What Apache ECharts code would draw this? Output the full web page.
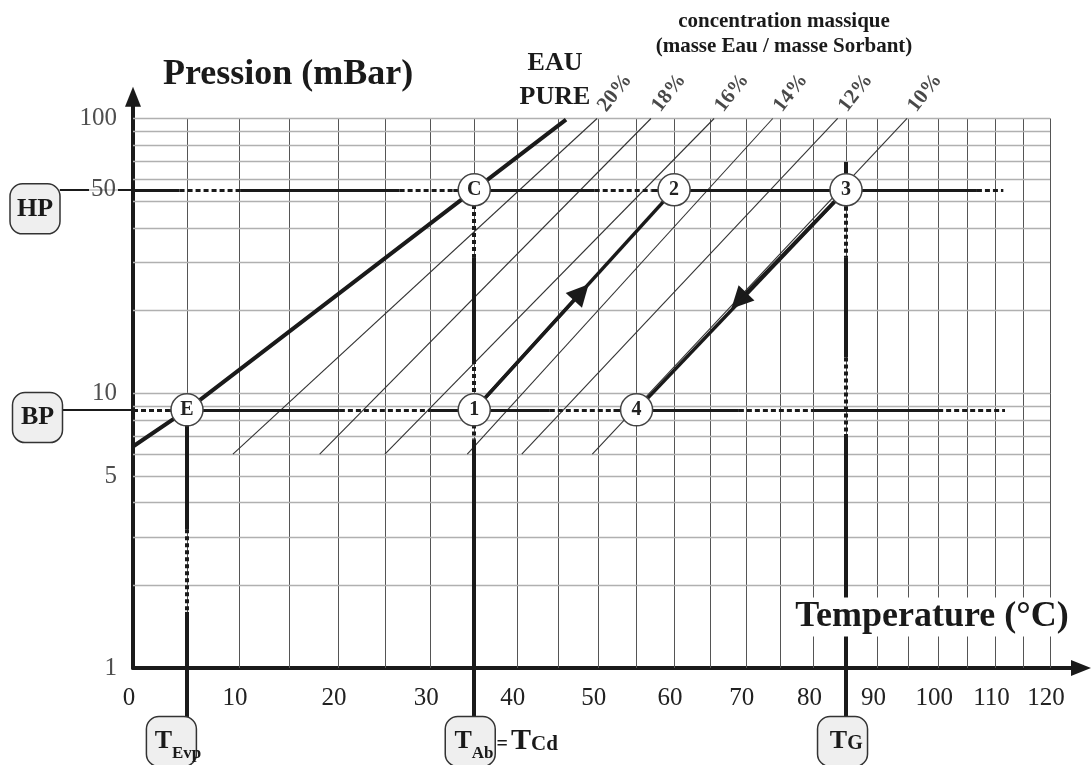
<!DOCTYPE html>
<html>
<head>
<meta charset="utf-8">
<title>Diagramme de Dühring</title>
<script src="https://cdn.jsdelivr.net/npm/echarts@6/dist/echarts.min.js"></script>
<style>
html, body { margin: 0; padding: 0; background: #fff; }
#chart { width: 1092px; height: 765px; }
</style>
</head>
<body>
<div id="chart"></div>
<script>
const tempTicks = [0, 10, 20, 30, 40, 50, 60, 70, 80, 90, 100, 110, 120]
const gridTemps = [5, 10, 15, 20, 25, 30, 35, 40, 45, 50, 55, 60, 65, 70, 75, 80, 85, 90, 95, 100, 105, 110, 115, 120]
const gridPressures = [2, 3, 4, 5, 6, 7, 8, 9, 10, 20, 30, 40, 50, 60, 70, 80, 90, 100]
const pressureTicks = [1, 5, 10, 100]

// eau pure (T °C, P mbar)
const pureWater = [[0, 6.4], [5, 8.7], [35, 55], [46, 99]]

// isoconcentrations : T à 6 mbar et T à 100 mbar
const isoLabels = ['20%', '18%', '16%', '14%', '12%', '10%']
const isoTempLow = [9.4, 18.1, 25.0, 34.2, 40.6, 49.3]
const isoTempHigh = [49.9, 56.9, 65.5, 73.9, 83.7, 94.8]
const isoPLow = 6
const isoPHigh = 100

const HP = 55
const BP = 8.7
const cyclePoints = [['E', 5, BP], ['C', 35, HP], ['1', 35, BP], ['2', 60, HP], ['3', 85, HP], ['4', 55, BP]]
const absorbLine = [[35, BP], [60, HP]]
const desorbLine = [[85, HP], [55, BP]]
const arrowUp = [47.9, 23.3]
const arrowDown = [69.0, 21.7]

// parties en tirets des traits épais
const hpDashes = [[4.3, 10.1], [26.6, 32.6], [49.6, 57], [106.7, 111.4]]
const bpDashes = [[0, 3.4], [20.2, 30], [44, 52], [69, 80], [100, 111.7]]
const hpEnd = 111.4
const bpEnd = 111.7
const tLines = [
  { name: 'TEvp', T: 5, top: BP, dashes: [[3.2, 1.6]] },
  { name: 'TAb', T: 35, top: HP, dashes: [[48.4, 31.3], [13.2, 9.9], [7.7, 6.8]] },
  { name: 'TG', T: 85, top: 69.5, dashes: [[47.7, 31.3], [13.5, 7.1]] }
]
const tLineBottom = 0.663

const K = 273.15
const toU = T => 1000 * (1 / K - 1 / (T + K))
const toT = v => 1 / (1 / K - v / 1000) - K

const FONT = 'Liberation Serif'
const INK = '#1a1a1a'

function seg (T1, P1, T2, P2, style) {
  const item = { coords: [[toU(T1), P1], [toU(T2), P2]] }
  if (style) item.lineStyle = style
  return item
}

function hLine (T0, T1, P, dashes) {
  const out = []
  let t = T0
  dashes.forEach(([a, b]) => {
    if (a > t) out.push(seg(t, P, a, P))
    out.push(seg(a, P, b, P, { type: [5, 3] }))
    t = b
  })
  if (t < T1) out.push(seg(t, P, T1, P))
  return out
}

function vLine (T, Ptop, Pbot, dashes) {
  const out = []
  let p = Ptop
  dashes.forEach(([a, b]) => {
    if (a < p) out.push(seg(T, p, T, a))
    out.push(seg(T, a, T, b, { type: [4, 3] }))
    p = b
  })
  if (p > Pbot) out.push(seg(T, p, T, Pbot))
  return out
}

const chart = echarts.init(document.getElementById('chart'))

const option = {
  backgroundColor: '#fff',
  animation: false,
  grid: { left: 133, right: 11, top: 96.74, bottom: 97 },
  xAxis: {
    type: 'value',
    min: 0,
    max: 948 / 820.65,
    axisLine: {
      onZero: false,
      lineStyle: { color: INK, width: 4 },
      symbol: ['none', 'triangle'],
      symbolSize: [16, 20]
    },
    axisTick: { show: false },
    splitLine: { show: false },
    axisLabel: {
      customValues: tempTicks.map(toU),
      formatter: v => String(Math.round(toT(v))),
      fontFamily: FONT,
      fontSize: 25,
      color: '#222',
      margin: 18,
      padding: [0, 8, 0, 0]
    }
  },
  yAxis: {
    type: 'log',
    logBase: 10,
    min: 1,
    max: 120,
    axisLine: {
      onZero: false,
      lineStyle: { color: INK, width: 4 },
      symbol: ['none', 'triangle'],
      symbolSize: [16, 20]
    },
    axisTick: { show: false },
    splitLine: { show: false },
    axisLabel: { show: false }
  },
  graphic: [
    { type: 'text', x: 163, y: 75, z: 100, style: { text: 'Pression (mBar)', fontFamily: FONT, fontWeight: 'bold', fontSize: 36, fill: INK, align: 'left', verticalAlign: 'middle' } },
    { type: 'text', x: 932, y: 617, z: 100, style: { text: 'Temperature (°C)', fontFamily: FONT, fontWeight: 'bold', fontSize: 36, fill: INK, align: 'center', verticalAlign: 'middle', backgroundColor: '#fff', padding: [1, 3, 2, 3] } },
    { type: 'text', x: 555, y: 63, z: 100, style: { text: 'EAU', fontFamily: FONT, fontWeight: 'bold', fontSize: 26, fill: INK, align: 'center', verticalAlign: 'middle' } },
    { type: 'text', x: 555, y: 97, z: 100, style: { text: 'PURE', fontFamily: FONT, fontWeight: 'bold', fontSize: 26, fill: INK, align: 'center', verticalAlign: 'middle' } },
    { type: 'text', x: 784, y: 22, z: 100, style: { text: 'concentration massique', fontFamily: FONT, fontWeight: 'bold', fontSize: 21, fill: INK, align: 'center', verticalAlign: 'middle' } },
    { type: 'text', x: 784, y: 47, z: 100, style: { text: '(masse Eau / masse Sorbant)', fontFamily: FONT, fontWeight: 'bold', fontSize: 21, fill: INK, align: 'center', verticalAlign: 'middle' } }
  ],
  series: [
    {
      name: 'grille T',
      type: 'lines',
      coordinateSystem: 'cartesian2d',
      silent: true,
      z: 1,
      lineStyle: { color: '#555', width: 1, opacity: 1 },
      data: gridTemps.map(t => seg(t, 1, t, 100))
    },
    {
      name: 'grille P',
      type: 'lines',
      coordinateSystem: 'cartesian2d',
      silent: true,
      z: 1,
      lineStyle: { color: '#b0b0b0', width: 1.3, opacity: 1 },
      data: gridPressures.map(p => seg(0, p, 120, p))
    },
    {
      name: 'isoconcentrations',
      type: 'lines',
      coordinateSystem: 'cartesian2d',
      z: 2,
      lineStyle: { color: '#333', width: 1.1, opacity: 1 },
      data: isoTempLow.map((t, i) => seg(t, isoPLow, isoTempHigh[i], isoPHigh))
    },
    {
      name: 'eau pure',
      type: 'line',
      z: 3,
      showSymbol: false,
      clip: false,
      lineStyle: { color: INK, width: 4 },
      data: pureWater.map(([t, p]) => [toU(t), p])
    },
    {
      name: 'HP / BP',
      type: 'lines',
      coordinateSystem: 'cartesian2d',
      clip: false,
      z: 3,
      lineStyle: { color: INK, width: 3, opacity: 1 },
      data: hLine(0, hpEnd, HP, hpDashes)
        .concat(hLine(0, bpEnd, BP, bpDashes))
        .concat([seg(-6.5, HP, 0, HP, { width: 2 }), seg(-6.3, BP, 0, BP, { width: 2 })])
    },
    {
      name: 'températures',
      type: 'lines',
      coordinateSystem: 'cartesian2d',
      clip: false,
      z: 3,
      lineStyle: { color: INK, width: 4, opacity: 1 },
      data: tLines.reduce((acc, l) => acc.concat(vLine(l.T, l.top, tLineBottom, l.dashes)), [])
    },
    {
      name: 'absorption',
      type: 'line',
      z: 4,
      showSymbol: false,
      lineStyle: { color: INK, width: 3.5 },
      data: absorbLine.map(([t, p]) => [toU(t), p])
    },
    {
      name: 'désorption',
      type: 'line',
      z: 4,
      showSymbol: false,
      lineStyle: { color: INK, width: 3.5 },
      data: desorbLine.map(([t, p]) => [toU(t), p])
    },
    {
      name: 'flèches',
      type: 'lines',
      coordinateSystem: 'cartesian2d',
      z: 4,
      symbol: ['none', 'triangle'],
      symbolSize: 22,
      lineStyle: { color: INK, width: 3.5, opacity: 1 },
      data: [
        seg(absorbLine[0][0], absorbLine[0][1], arrowUp[0], arrowUp[1]),
        seg(desorbLine[0][0], desorbLine[0][1], arrowDown[0], arrowDown[1])
      ]
    },
    {
      name: 'graduations P',
      type: 'scatter',
      clip: false,
      symbolSize: 0,
      silent: true,
      label: {
        show: true,
        position: 'left',
        distance: 16,
        fontFamily: FONT,
        fontSize: 25,
        color: '#222',
        formatter: p => String(p.value[1])
      },
      data: pressureTicks.map(p => [0, p])
    },
    {
      name: 'repère HP',
      type: 'scatter',
      clip: false,
      symbolSize: 0,
      silent: true,
      z: 5,
      label: {
        show: true,
        position: 'left',
        distance: 15,
        fontFamily: FONT,
        fontSize: 25,
        color: '#222',
        backgroundColor: '#fff',
        padding: [0, 2],
        formatter: '50'
      },
      data: [[0, HP]]
    },
    {
      name: 'points du cycle',
      type: 'scatter',
      clip: false,
      z: 6,
      symbolSize: 32,
      itemStyle: { color: '#fff', borderColor: '#444', borderWidth: 1.5, opacity: 1 },
      label: {
        show: true,
        position: 'inside',
        fontFamily: FONT,
        fontWeight: 'bold',
        fontSize: 20,
        color: '#222',
        formatter: p => p.name
      },
      data: cyclePoints.map(([n, t, p]) => ({ name: n, value: [toU(t), p] }))
    },
    {
      name: 'cartouches',
      type: 'scatter',
      clip: false,
      z: 6,
      symbol: 'roundRect',
      symbolSize: [50, 50],
      itemStyle: { color: '#efefef', borderColor: '#333', borderWidth: 1.5, opacity: 1 },
      label: {
        show: true,
        position: 'inside',
        fontFamily: FONT,
        fontWeight: 'bold',
        color: INK,
        rich: {
          t: { fontFamily: FONT, fontWeight: 'bold', fontSize: 26, color: INK },
          s: { fontFamily: FONT, fontWeight: 'bold', fontSize: 17, color: INK, padding: [24, 0, 0, 0] },
          eq: { fontFamily: FONT, fontWeight: 'bold', fontSize: 20, color: INK, padding: [6, 3, 0, 3] },
          g: { fontFamily: FONT, fontWeight: 'bold', fontSize: 20, color: INK, padding: [4, 0, 0, 0] },
          c: { fontFamily: FONT, fontWeight: 'bold', fontSize: 21, color: INK, padding: [6, 0, 0, 0] },
          big: { fontFamily: FONT, fontWeight: 'bold', fontSize: 30, color: INK }
        }
      },
      data: [
        { value: [0, HP], symbolOffset: [-98, 19], label: { formatter: '{t|HP}', fontSize: 24 } },
        { value: [0, BP], symbolOffset: [-95.5, 7.7], label: { formatter: '{t|BP}' } },
        { value: [toU(5), 1], symbolOffset: [-15.6, 73.5], label: { position: 'insideLeft', distance: 9, formatter: '{t|T}{s|Evp}' } },
        { value: [toU(35), 1], symbolOffset: [-4, 73.5], label: { position: 'insideLeft', distance: 10, formatter: '{t|T}{s|Ab}{eq|=}{big|T}{c|Cd}' } },
        { value: [toU(85), 1], symbolOffset: [-3.5, 73.5], label: { position: 'insideLeft', distance: 13, formatter: '{t|T}{g|G}' } }
      ]
    },
    {
      name: 'étiquettes concentration',
      type: 'scatter',
      clip: false,
      symbolSize: 0,
      silent: true,
      z: 5,
      label: {
        show: true,
        position: [5, -9],
        align: 'left',
        verticalAlign: 'middle',
        rotate: 52,
        fontFamily: FONT,
        fontWeight: 'bold',
        fontSize: 21,
        color: INK,
        formatter: p => p.name
      },
      data: isoTempHigh.map((t, i) => ({ name: isoLabels[i], value: [toU(t), isoPHigh] }))
    }
  ]
}

chart.setOption(option)
</script>
</body>
</html>
